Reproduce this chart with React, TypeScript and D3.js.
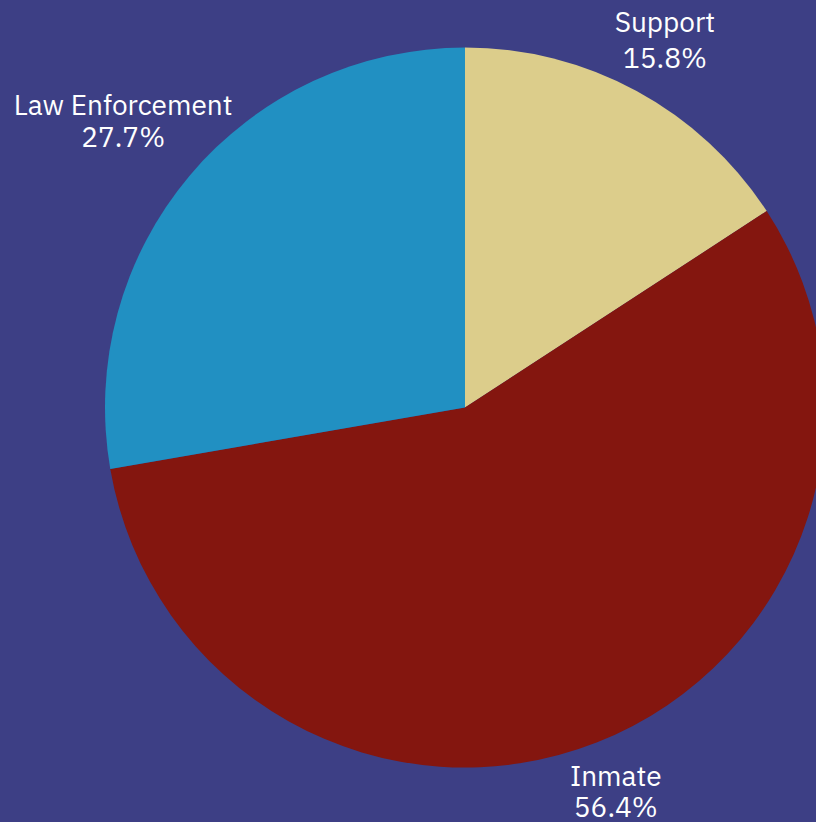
import * as d3 from "d3";
import React, { useEffect, useRef } from "react";

const categories: string[] = ["Support", "Inmate", "Law Enforcement"];
const shares: number[] = [15.8, 56.4, 27.7];
const colors: string[] = ["#dccd8b", "#84160f", "#2190c2"];
// label anchor distance from the centre, in units of the radius
const labelRadius: number[] = [1.13, 1.176, 1.205];
// extra nudge of each label, px
const labelShift: [number, number][] = [
	[6, 0],
	[-4, 0],
	[-10, 3],
];
// gap between the two label lines, px
const lineGap: number[] = [36, 31, 32];

const App = () => {
	const ref = useRef<SVGSVGElement>(null);

	useEffect(() => {
		const width = 816;
		const height = 822;
		const cx = 465;
		const cy = 407.5;
		const radius = 360;

		const svg = d3.select(ref.current);
		svg.selectAll("*").remove();

		svg.append("rect")
			.attr("width", width)
			.attr("height", height)
			.attr("fill", "#3d3f85");

		const data = categories.map((c, i) => ({ name: c, value: shares[i], i }));
		const pie = d3
			.pie<{ name: string; value: number; i: number }>()
			.sort(null)
			.value((d) => d.value);
		const arcs = pie(data);

		const arc = d3
			.arc<d3.PieArcDatum<{ name: string; value: number; i: number }>>()
			.innerRadius(0)
			.outerRadius(radius);

		const g = svg.append("g").attr("transform", `translate(${cx},${cy})`);

		g.selectAll("path")
			.data(arcs)
			.enter()
			.append("path")
			.attr("d", arc)
			.attr("fill", (d) => colors[d.data.i]);

		const labels = g
			.selectAll("text")
			.data(arcs)
			.enter()
			.append("text")
			.attr("transform", (d) => {
				const a = (d.startAngle + d.endAngle) / 2;
				const r = radius * labelRadius[d.data.i];
				const [sx, sy] = labelShift[d.data.i];
				return `translate(${r * Math.sin(a) + sx},${-r * Math.cos(a) + sy})`;
			})
			.attr("text-anchor", "middle")
			.attr("fill", "#ffffff")
			.style("font-family", "'IBM Plex Sans', 'Noto Sans', sans-serif")
			.style("font-size", "28px");

		labels
			.append("tspan")
			.attr("x", 0)
			.attr("y", (d) => -lineGap[d.data.i] / 2)
			.text((d) => d.data.name);
		labels
			.append("tspan")
			.attr("x", 0)
			.attr("y", (d) => lineGap[d.data.i] / 2)
			.text((d) => `${d.data.value.toFixed(1)}%`);
	});

	return (
		<svg
			ref={ref}
			width={816}
			height={822}
			style={{ position: "absolute", left: 0, top: 0, display: "block" }}
		/>
	);
};

export default App;
